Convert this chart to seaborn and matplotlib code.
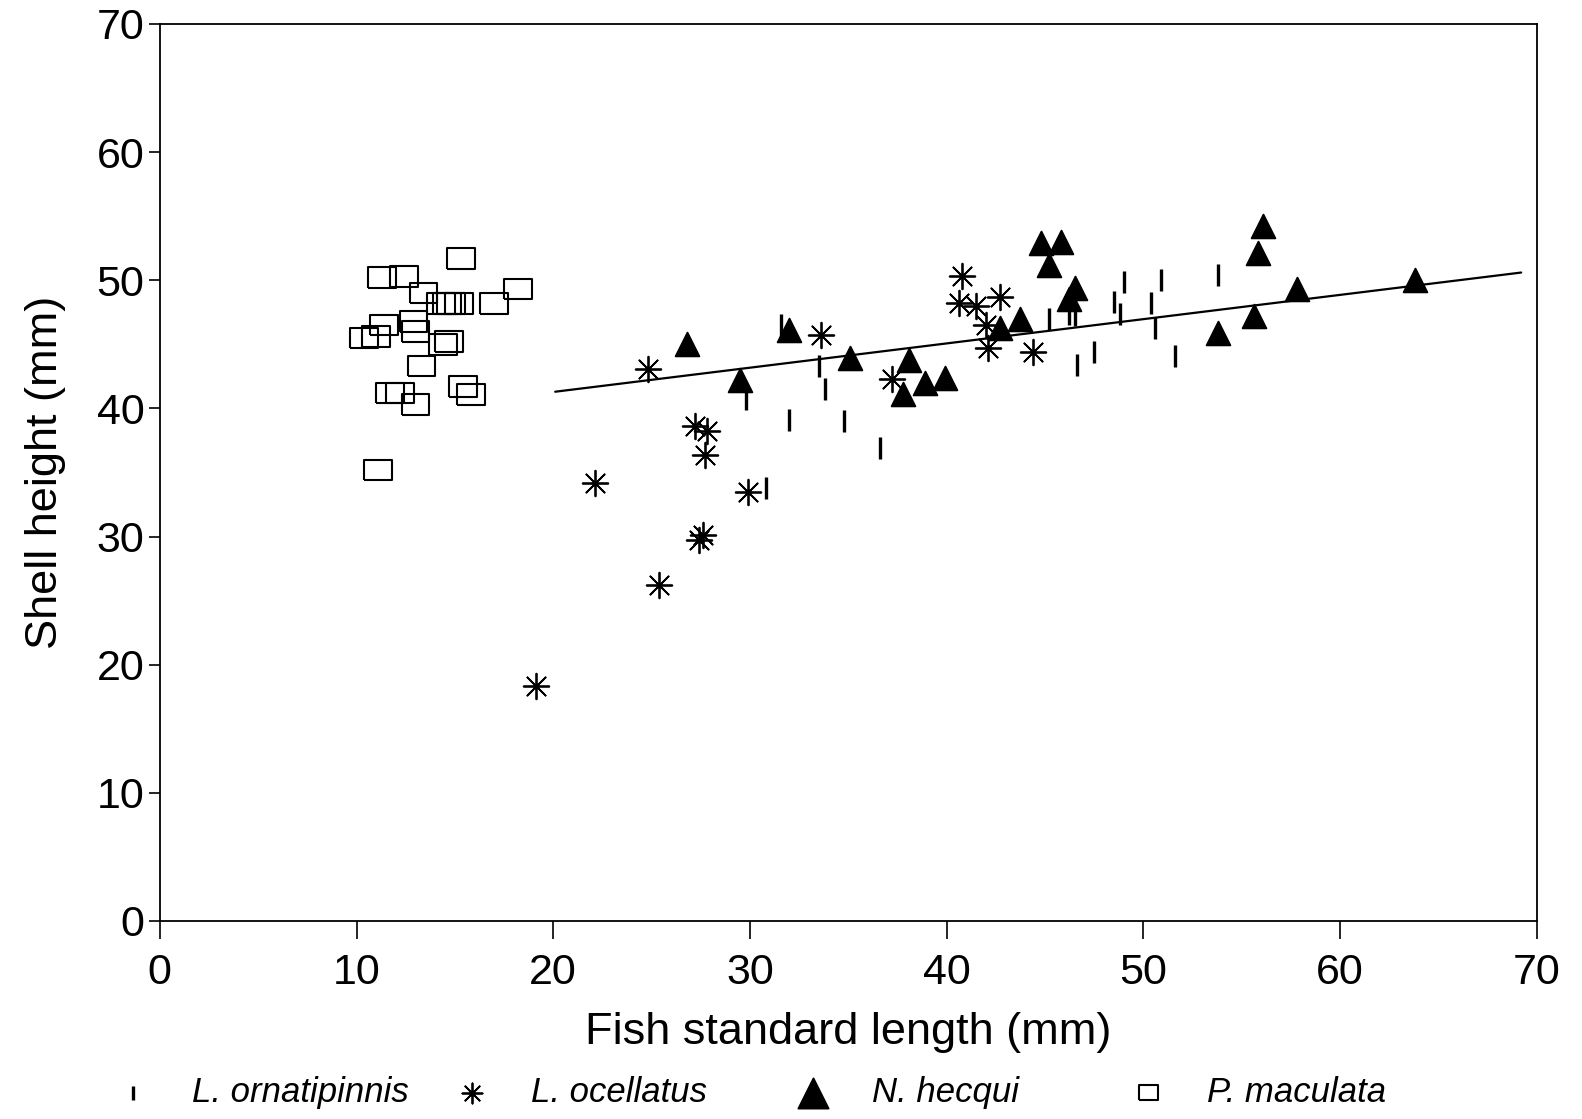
import pandas as pd
import numpy as np
import matplotlib.pyplot as plt
import seaborn as sns

# L. ornatipinnis (vertical bars)
orn_x = [29.8, 31.6, 33.5, 33.8, 32.0, 34.8, 36.6, 30.8, 45.2, 46.2, 46.5, 46.6,
         47.5, 49.0, 48.5, 48.8, 50.4, 50.9, 50.6, 51.6, 53.8]
orn_y = [40.7, 46.5, 43.3, 41.5, 39.1, 39.0, 36.9, 33.8, 47.0, 47.4, 47.3, 43.4,
         44.4, 49.9, 48.3, 47.4, 48.2, 50.0, 46.3, 44.1, 50.4]

# L. ocellatus (asterisks)
oce_x = [24.8, 27.2, 27.8, 27.7, 22.1, 29.9, 27.6, 27.4, 25.4, 19.1, 33.6, 37.2,
         40.8, 40.6, 41.5, 42.7, 42.1, 44.4, 42.0]
oce_y = [43.1, 38.6, 38.2, 36.4, 34.2, 33.5, 30.1, 29.7, 26.2, 18.3, 45.7, 42.3,
         50.3, 48.2, 48.0, 48.7, 44.7, 44.4, 46.5]

# N. hecqui (filled triangles)
hec_x = [26.8, 32.0, 29.5, 35.1, 38.1, 37.8, 38.9, 39.9, 44.8, 45.8, 45.2, 43.7,
         42.7, 46.5, 46.2, 56.1, 55.8, 55.6, 53.8, 57.8, 63.8]
hec_y = [45.0, 46.1, 42.2, 43.9, 43.8, 41.1, 42.0, 42.4, 52.9, 53.0, 51.2, 47.0,
         46.3, 49.4, 48.5, 54.2, 52.1, 47.2, 45.9, 49.3, 50.0]

# P. maculata (open squares)
mac_x = [10.4, 11.0, 11.3, 11.4, 12.4, 12.9, 13.0, 13.4, 14.3, 14.6, 14.8, 15.2,
         15.3, 17.0, 18.2, 11.7, 12.2, 13.0, 13.3, 14.4, 14.7, 15.4, 15.8, 11.1]
mac_y = [45.5, 45.6, 50.2, 46.5, 50.3, 46.8, 46.0, 49.0, 48.2, 48.2, 48.2, 48.2,
         51.7, 48.2, 49.3, 41.2, 41.2, 40.3, 43.3, 45.0, 45.2, 41.7, 41.1, 35.2]

# fitted line endpoints
fit_x = [20.1, 69.2]
fit_y = [41.3, 50.6]

sns.set_theme(style="white")
plt.rcParams['font.family'] = ['Liberation Sans', 'DejaVu Sans']
plt.rcParams['text.color'] = 'black'
plt.rcParams['axes.labelcolor'] = 'black'

fig = plt.figure(figsize=(15.82, 11.19), dpi=100)
ax = fig.add_axes([0.101, 0.177, 0.8705, 0.8016])

rect = [(-1.35, -1), (1.35, -1), (1.35, 1), (-1.35, 1), (-1.35, -1)]

sns.scatterplot(x=orn_x, y=orn_y, marker='|', s=260, color='black',
                linewidth=2.4, ax=ax, label='L. ornatipinnis')
sns.scatterplot(x=oce_x, y=oce_y, marker=(8, 2, 0), s=340, color='black',
                linewidth=1.3, ax=ax, label='L. ocellatus')
sns.scatterplot(x=hec_x, y=hec_y, marker='^', s=290, color='black',
                edgecolor='black', ax=ax, label='N. hecqui')
sns.scatterplot(x=mac_x, y=mac_y, marker=rect, s=400, facecolor='none',
                edgecolor='black', linewidth=1.5, ax=ax, label='P. maculata')
sns.lineplot(x=fit_x, y=fit_y, color='black', linewidth=1.6, ax=ax, legend=False)

ax.set_xlim(0, 70)
ax.set_ylim(0, 70)
ax.set_xticks(np.arange(0, 71, 10))
ax.set_yticks(np.arange(0, 71, 10))
ax.tick_params(direction='out', width=1.2, labelsize=31, colors='black',
               left=True, bottom=True)
ax.tick_params(axis='x', length=13, pad=10)
ax.tick_params(axis='y', length=8, pad=3)
for sp in ax.spines.values():
    sp.set_color('black')
    sp.set_linewidth(1.3)

ax.set_xlabel('Fish standard length (mm)', fontsize=32.5, labelpad=14)
ax.set_ylabel('Shell height (mm)', fontsize=32.5, labelpad=22)

# legend row under the axis, one entry per species
handles, labels = ax.get_legend_handles_labels()
ax.get_legend().remove()
leg_left = [116, 455, 796, 1131]
leg_sizes = [90, 210, 470, 190]
for h, lab, xl, sz in zip(handles, labels, leg_left, leg_sizes):
    leg = fig.legend([h], [lab], loc='center left', bbox_to_anchor=(xl / 1582, 0.024),
                     frameon=False, prop={'style': 'italic', 'size': 25},
                     handlelength=1, handletextpad=1.18, borderpad=0, borderaxespad=0)
    leg.legend_handles[0].set_sizes([sz])

plt.savefig("out.png", dpi=100)
